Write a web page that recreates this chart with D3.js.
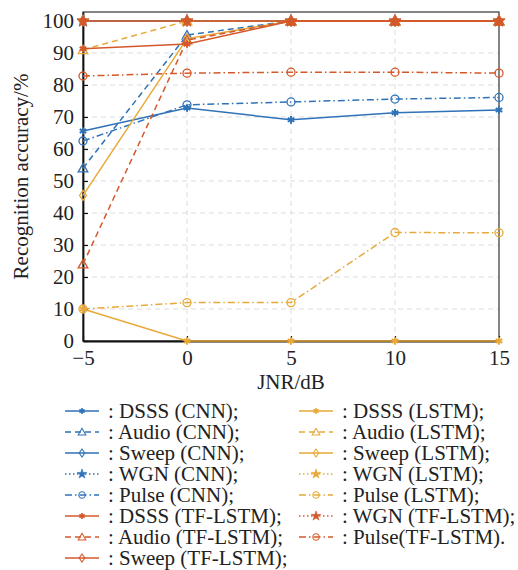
<!DOCTYPE html>
<html>
<head>
<meta charset="utf-8">
<script src="https://cdn.jsdelivr.net/npm/d3@7"></script>
<style>
  @font-face { font-family: "ChartSerif"; src: local("Liberation Serif"), local("LiberationSerif"), local("LiberationSerif-Regular"); }
  body { margin: 0; }
  #chart, #chart text { font-family: "Liberation Serif", ChartSerif, "DejaVu Serif"; }
</style>
</head>
<body>
<svg id="chart" width="518" height="570" font-family="Liberation Serif"></svg>
<script>
var jnr = [-5, 0, 5, 10, 15];
var xTicks = [-5, 0, 5, 10, 15];
var yTicks = [0, 10, 20, 30, 40, 50, 60, 70, 80, 90, 100];

// CNN
var dsssCnn   = [65.6, 72.8, 69.1, 71.3, 72.2];
var audioCnn  = [54.0, 95.6, 100, 100, 100];
var sweepCnn  = [100, 100, 100, 100, 100];
var wgnCnn    = [100, 100, 100, 100, 100];
var pulseCnn  = [62.5, 73.8, 74.7, 75.6, 76.1];
// LSTM
var dsssLstm  = [10.0, 0, 0, 0, 0];
var audioLstm = [91.0, 100, 100, 100, 100];
var sweepLstm = [45.5, 94.5, 100, 100, 100];
var wgnLstm   = [100, 100, 100, 100, 100];
var pulseLstm = [10.0, 12.0, 12.0, 33.9, 33.8];
// TF-LSTM
var dsssTf    = [91.3, 92.8, 100, 100, 100];
var audioTf   = [24.0, 94.0, 100, 100, 100];
var sweepTf   = [100, 100, 100, 100, 100];
var wgnTf     = [100, 100, 100, 100, 100];
var pulseTf   = [82.8, 83.7, 84.0, 84.0, 83.7];

var blue = '#2f72b8', yellow = '#e8a93a', red = '#d4582a';

var dash = { solid: null, dashed: '6,4', dotted: '1.5,2.5', dashdot: '7,3,1.5,3' };

function mk(name, values, color, style, marker) {
	return { name: name, values: values, color: color, style: style, marker: marker };
}

var series = [
	mk(': DSSS (CNN);', dsssCnn, blue, 'solid', 'plus'),
	mk(': Audio (CNN);', audioCnn, blue, 'dashed', 'triangle'),
	mk(': Sweep (CNN);', sweepCnn, blue, 'solid', 'diamond'),
	mk(': WGN (CNN);', wgnCnn, blue, 'dotted', 'star'),
	mk(': Pulse (CNN);', pulseCnn, blue, 'dashdot', 'circle'),
	mk(': DSSS (LSTM);', dsssLstm, yellow, 'solid', 'plus'),
	mk(': Audio (LSTM);', audioLstm, yellow, 'dashed', 'triangle'),
	mk(': Sweep (LSTM);', sweepLstm, yellow, 'solid', 'diamond'),
	mk(': WGN (LSTM);', wgnLstm, yellow, 'dotted', 'star'),
	mk(': Pulse (LSTM);', pulseLstm, yellow, 'dashdot', 'circle'),
	mk(': DSSS (TF-LSTM);', dsssTf, red, 'solid', 'plus'),
	mk(': Audio (TF-LSTM);', audioTf, red, 'dashed', 'triangle'),
	mk(': Sweep (TF-LSTM);', sweepTf, red, 'solid', 'diamond'),
	mk(': WGN (TF-LSTM);', wgnTf, red, 'dotted', 'star'),
	mk(': Pulse(TF-LSTM).', pulseTf, red, 'dashdot', 'circle')
];

// legend is column-major, as in the figure
var legendLeft  = [0, 1, 2, 3, 4, 10, 11, 12];
var legendRight = [5, 6, 7, 8, 9, 13, 14];

var svg = d3.select('#chart');
var m = { left: 83, top: 12, right: 499, bottom: 341 };

var x = d3.scaleLinear().domain([-5, 15]).range([m.left, m.right]);
var y = d3.scaleLinear().domain([0, 102.8]).range([m.bottom, m.top]);

function txt(sel, size) {
	return sel.attr('font-size', size).attr('fill', '#222');
}

// grid
var grid = svg.append('g').attr('stroke', '#dcdcdc').attr('stroke-dasharray', '5,4').attr('stroke-width', 1);
grid.selectAll('.gy').data(yTicks.filter(function (d) { return d > 0; })).enter().append('line')
	.attr('x1', m.left).attr('x2', m.right)
	.attr('y1', function (d) { return y(d); }).attr('y2', function (d) { return y(d); });
grid.selectAll('.gx').data(xTicks.slice(1, -1)).enter().append('line')
	.attr('y1', m.top).attr('y2', m.bottom)
	.attr('x1', function (d) { return x(d); }).attr('x2', function (d) { return x(d); });

// frame
svg.append('rect')
	.attr('x', m.left).attr('y', m.top)
	.attr('width', m.right - m.left).attr('height', m.bottom - m.top)
	.attr('fill', 'none').attr('stroke', '#333').attr('stroke-width', 1.2);

// axes
var xAxis = d3.axisBottom(x).tickValues(xTicks).tickSizeInner(-5).tickSizeOuter(0).tickPadding(9)
	.tickFormat(function (d) { return d < 0 ? '\u2212' + (-d) : d; });
var yAxis = d3.axisLeft(y).tickValues(yTicks).tickSizeInner(-5).tickSizeOuter(0).tickPadding(9);

var gx = svg.append('g').attr('transform', 'translate(0,' + m.bottom + ')').call(xAxis);
var gy = svg.append('g').attr('transform', 'translate(' + m.left + ',0)').call(yAxis);
[gx, gy].forEach(function (g) {
	g.attr('font-family', null).attr('font-size', null);
	g.select('.domain').attr('stroke', '#111').attr('stroke-width', 1.8);
	g.selectAll('.tick line').attr('stroke', '#111').attr('stroke-width', 1.2);
	txt(g.selectAll('.tick text'), 21);
});

txt(svg.append('text'), 21).attr('x', (m.left + m.right) / 2).attr('y', 389)
	.attr('text-anchor', 'middle').text('JNR/dB');
txt(svg.append('text'), 21).attr('transform', 'translate(28,' + ((m.top + m.bottom) / 2) + ') rotate(-90)')
	.attr('text-anchor', 'middle').text('Recognition accuracy/%');

// markers
function drawMarker(g, type, color) {
	if (type === 'circle') {
		g.append('circle').attr('r', 4).attr('fill', 'none').attr('stroke', color).attr('stroke-width', 1.3);
	} else if (type === 'triangle') {
		g.append('path').attr('d', d3.symbol(d3.symbolTriangle, 40)()).attr('transform', 'translate(0,1)')
			.attr('fill', 'none').attr('stroke', color).attr('stroke-width', 1.3);
	} else if (type === 'diamond') {
		g.append('path').attr('d', 'M0,-5L3.5,0L0,5L-3.5,0Z')
			.attr('fill', 'none').attr('stroke', color).attr('stroke-width', 1.3);
	} else if (type === 'star') {
		g.append('path').attr('d', d3.symbol(d3.symbolStar, 45)())
			.attr('fill', color).attr('stroke', color).attr('stroke-width', 0.8);
	} else {
		g.append('path').attr('d', d3.symbol(d3.symbolAsterisk, 40)())
			.attr('fill', 'none').attr('stroke', color).attr('stroke-width', 2);
	}
}

var line = d3.line().x(function (d, i) { return x(jnr[i]); }).y(function (d) { return y(d); });

var layer = svg.append('g');
series.forEach(function (s) {
	var g = layer.append('g');
	g.append('path').attr('d', line(s.values))
		.attr('fill', 'none').attr('stroke', s.color).attr('stroke-width', 1.5)
		.attr('stroke-dasharray', dash[s.style]);
	s.values.forEach(function (v, i) {
		var mg = g.append('g').attr('transform', 'translate(' + x(jnr[i]) + ',' + y(v) + ')');
		drawMarker(mg, s.marker, s.color);
	});
});

// legend
function legendColumn(idx, x0, textX) {
	idx.forEach(function (k, r) {
		var s = series[k];
		var cy = 411 + r * 21;
		var g = svg.append('g');
		g.append('line').attr('x1', x0).attr('x2', x0 + 34).attr('y1', cy).attr('y2', cy)
			.attr('stroke', s.color).attr('stroke-width', 1.5).attr('stroke-dasharray', dash[s.style]);
		var mg = g.append('g').attr('transform', 'translate(' + (x0 + 17) + ',' + cy + ') scale(0.8)');
		drawMarker(mg, s.marker, s.color);
		txt(g.append('text'), 21).attr('x', textX).attr('y', cy).attr('dy', '0.33em').text(s.name);
	});
}
legendColumn(legendLeft, 65, 108);
legendColumn(legendRight, 299, 342);
</script>
</body>
</html>
